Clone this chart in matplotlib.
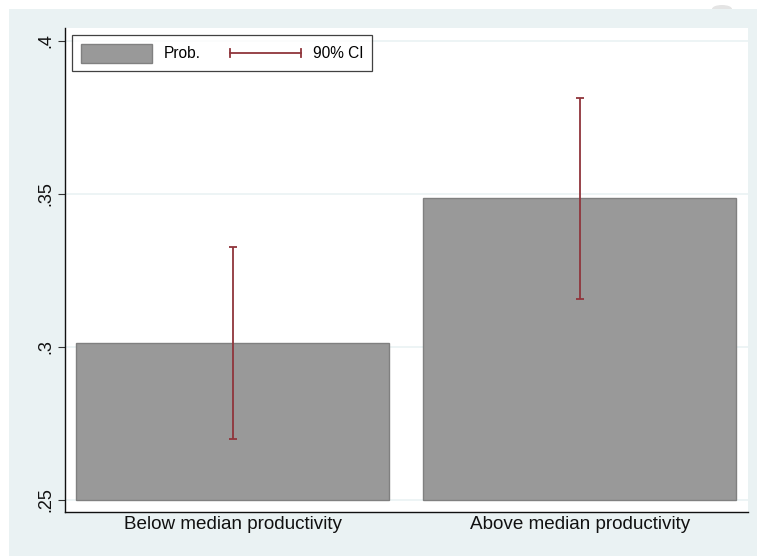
import matplotlib
matplotlib.use("Agg")
import matplotlib.pyplot as plt
from matplotlib.patches import Rectangle, Ellipse
from matplotlib.lines import Line2D
from matplotlib.legend_handler import HandlerBase

plt.rcParams['font.family'] = ['Liberation Sans', 'DejaVu Sans']

# Data
categories = ["Below median productivity", "Above median productivity"]
prob = [0.3011, 0.3486]
ci_low = [0.2698, 0.3155]
ci_high = [0.3325, 0.3814]
yticks = [0.25, 0.30, 0.35, 0.40]
ytick_labels = [".25", ".3", ".35", ".4"]

CI_COLOR = "#90353B"
BAR_COLOR = "#999999"
BAR_EDGE = "#808080"


class HandlerCapLine(HandlerBase):
    """Horizontal interval line with end caps for the legend key."""

    def create_artists(self, legend, orig_handle, xdescent, ydescent,
                       width, height, fontsize, trans):
        y = height / 2 - ydescent
        cap = 3.2
        x0, x1 = -xdescent, width - xdescent
        main = Line2D([x0, x1], [y, y], color=CI_COLOR, linewidth=1.3,
                      transform=trans)
        c0 = Line2D([x0, x0], [y - cap, y + cap], color=CI_COLOR,
                    linewidth=1.3, transform=trans)
        c1 = Line2D([x1, x1], [y - cap, y + cap], color=CI_COLOR,
                    linewidth=1.3, transform=trans)
        return [main, c0, c1]


W, H = 757, 556
fig = plt.figure(figsize=(W / 100, H / 100), dpi=100, facecolor="white")

panel_col = "#EAF2F3"
# outer graph region (drawn beneath the axes)
fig.patches.append(Ellipse((722 / W, (H - 9) / H), 20 / W, 8 / H,
                           transform=fig.transFigure, facecolor="#E4E4E4",
                           edgecolor="none", zorder=-3))
fig.patches.append(Rectangle((9 / W, 0), 1 - 9 / W, (H - 9) / H,
                             transform=fig.transFigure, facecolor=panel_col,
                             edgecolor="none", zorder=-2))

ax = fig.add_axes([65 / W, (H - 512) / H, (748 - 65) / W, (512 - 28) / H])
ax.set_facecolor("white")

x = list(range(len(categories)))
ax.bar(x, [p - 0.25 for p in prob], bottom=0.25, width=0.903,
       color=BAR_COLOR, edgecolor=BAR_EDGE, linewidth=1.0, zorder=2)

yerr = [[p - lo for p, lo in zip(prob, ci_low)],
        [hi - p for p, hi in zip(prob, ci_high)]]
ax.errorbar(x, prob, yerr=yerr, fmt="none", ecolor=CI_COLOR,
            elinewidth=1.3, capsize=3.2, capthick=1.3, zorder=3)

ax.set_xlim(-0.4834, 1.485)
ax.set_ylim(0.246, 0.40415)

ax.set_yticks(yticks)
ax.set_yticklabels(ytick_labels, rotation=90, va="center", fontsize=13,
                   color="#111111")
ax.set_xticks(x)
ax.set_xticklabels(categories, fontsize=13.6, color="#111111")
ax.tick_params(axis="y", length=5, width=0.8, pad=3, color="#333333")
ax.tick_params(axis="x", length=0, pad=3)

ax.grid(axis="y", color=panel_col, linewidth=1.2, zorder=0)
ax.set_axisbelow(True)

for side in ("top", "right"):
    ax.spines[side].set_visible(False)
for side in ("left", "bottom"):
    ax.spines[side].set_color("#111111")
    ax.spines[side].set_linewidth(1.0)

bar_key = Rectangle((0, 0), 1, 1, facecolor=BAR_COLOR, edgecolor=BAR_EDGE,
                    linewidth=1.0)
ci_key = Line2D([], [], color=CI_COLOR)
leg = ax.legend([bar_key, ci_key], ["Prob.", "90% CI"], ncol=2,
                loc="upper left", bbox_to_anchor=(7 / 683, 1 - 7 / 484),
                fontsize=11.2, frameon=True, fancybox=False,
                handlelength=4.6, handleheight=1.5, handletextpad=0.72,
                columnspacing=1.9, borderpad=0.55, borderaxespad=0,
                handler_map={ci_key: HandlerCapLine()})
leg.get_frame().set_edgecolor("#111111")
leg.get_frame().set_linewidth(0.9)

fig.savefig("out.png", dpi=100, facecolor="white")
